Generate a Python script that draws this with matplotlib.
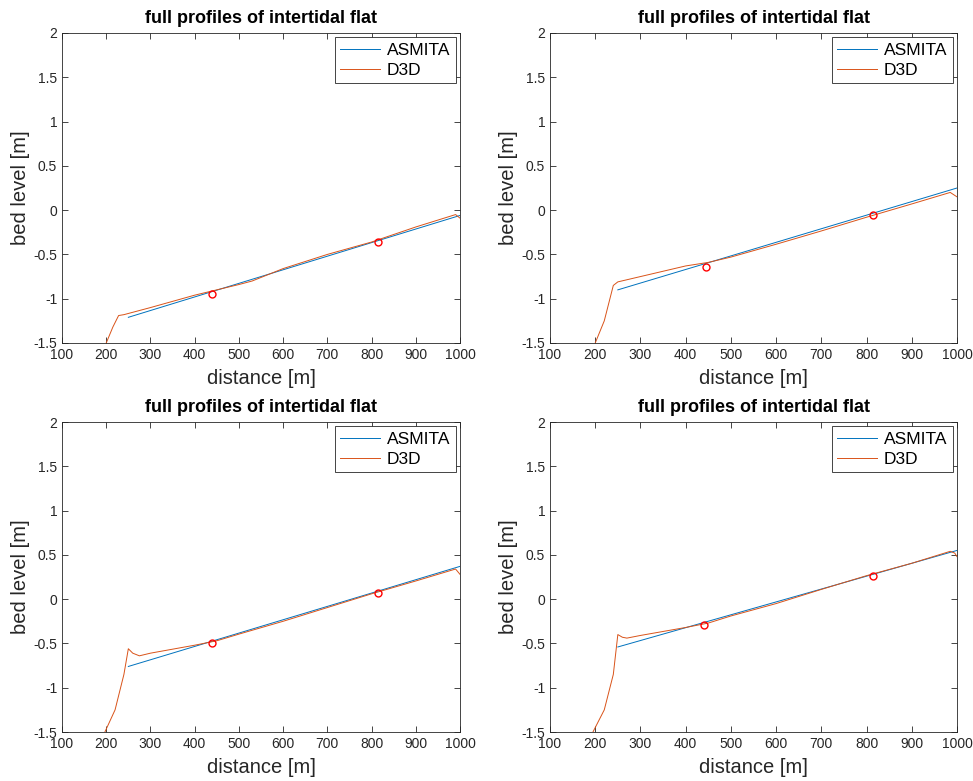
import numpy as np
import matplotlib.pyplot as plt

plt.rcParams['font.family'] = ['Liberation Sans', 'DejaVu Sans']

# ASMITA profiles (start/end points of each straight profile)
asmita_x = [250, 1000]
asmita_y = [
    [-1.21, -0.06],
    [-0.90, 0.25],
    [-0.76, 0.37],
    [-0.54, 0.55],
]

# D3D profiles
d3d_x = [
    [195, 200, 215, 228, 240, 300, 400, 500, 530, 600, 700, 800, 900, 990, 1000],
    [195, 200, 220, 240, 250, 300, 400, 450, 500, 600, 700, 800, 900, 985, 1000],
    [192, 197, 220, 240, 250, 260, 275, 300, 400, 450, 500, 600, 700, 800, 900, 990, 1000],
    [190, 195, 220, 240, 250, 260, 270, 300, 400, 450, 500, 600, 700, 800, 900, 985, 995, 1000],
]
d3d_y = [
    [-1.6, -1.5, -1.32, -1.19, -1.18, -1.10, -0.96, -0.84, -0.80, -0.66, -0.50, -0.36, -0.19, -0.05, -0.09],
    [-1.6, -1.5, -1.25, -0.85, -0.81, -0.75, -0.63, -0.59, -0.53, -0.385, -0.235, -0.08, 0.07, 0.20, 0.15],
    [-1.6, -1.5, -1.25, -0.85, -0.56, -0.61, -0.64, -0.61, -0.52, -0.47, -0.395, -0.25, -0.095, 0.06, 0.205, 0.34, 0.28],
    [-1.6, -1.5, -1.25, -0.85, -0.40, -0.43, -0.44, -0.41, -0.32, -0.27, -0.19, -0.05, 0.11, 0.265, 0.405, 0.54, 0.52, 0.48],
]

# measured points (red circles)
obs_x = [
    [440, 815],
    [445, 815],
    [440, 815],
    [440, 815],
]
obs_y = [
    [-0.95, -0.36],
    [-0.64, -0.05],
    [-0.50, 0.07],
    [-0.29, 0.26],
]

xticks = np.arange(100, 1001, 100)
yticks = np.arange(-1.5, 2.01, 0.5)
ytick_labels = ['-1.5', '-1', '-0.5', '0', '0.5', '1', '1.5', '2']

fig = plt.figure(figsize=(9.73, 7.81), dpi=100)
W, H = 973, 781
boxes = [(62, 33, 460, 343), (550, 33, 957, 343),
         (62, 422, 460, 732), (550, 422, 957, 732)]

for i, (l, t, r, b) in enumerate(boxes):
    ax = fig.add_axes([l / W, 1 - b / H, (r - l) / W, (b - t) / H])
    ax.plot(asmita_x, asmita_y[i], color='#0072BD', lw=0.7, label='ASMITA')
    ax.plot(d3d_x[i], d3d_y[i], color='#D95319', lw=0.7, label='D3D')
    ax.plot(obs_x[i], obs_y[i], 'o', mfc='none', mec='red', ms=5, mew=1)
    ax.set_xlim(100, 1000)
    ax.set_ylim(-1.5, 2)
    ax.set_xticks(xticks)
    ax.set_yticks(yticks)
    ax.set_yticklabels(ytick_labels)
    ax.tick_params(direction='in', top=True, right=True, labelsize=10,
                   colors='#262626', length=4, width=0.6)
    for s in ax.spines.values():
        s.set_color('#262626')
        s.set_linewidth(0.6)
    ax.set_xlabel('distance [m]', fontsize=14.5, color='#262626', labelpad=5)
    ax.set_ylabel('bed level [m]', fontsize=14.5, color='#262626', labelpad=2)
    ax.set_title('full profiles of intertidal flat', fontsize=13,
                 fontweight='bold', pad=7)
    leg = ax.legend(handles=ax.lines[:2], loc='upper right', fontsize=12.5,
                    fancybox=False, edgecolor='#262626', framealpha=1,
                    borderaxespad=0.25, handlelength=2.3, handletextpad=0.4,
                    labelspacing=0.3, borderpad=0.3)
    leg.get_frame().set_linewidth(0.6)

fig.savefig('out.png', dpi=100)
